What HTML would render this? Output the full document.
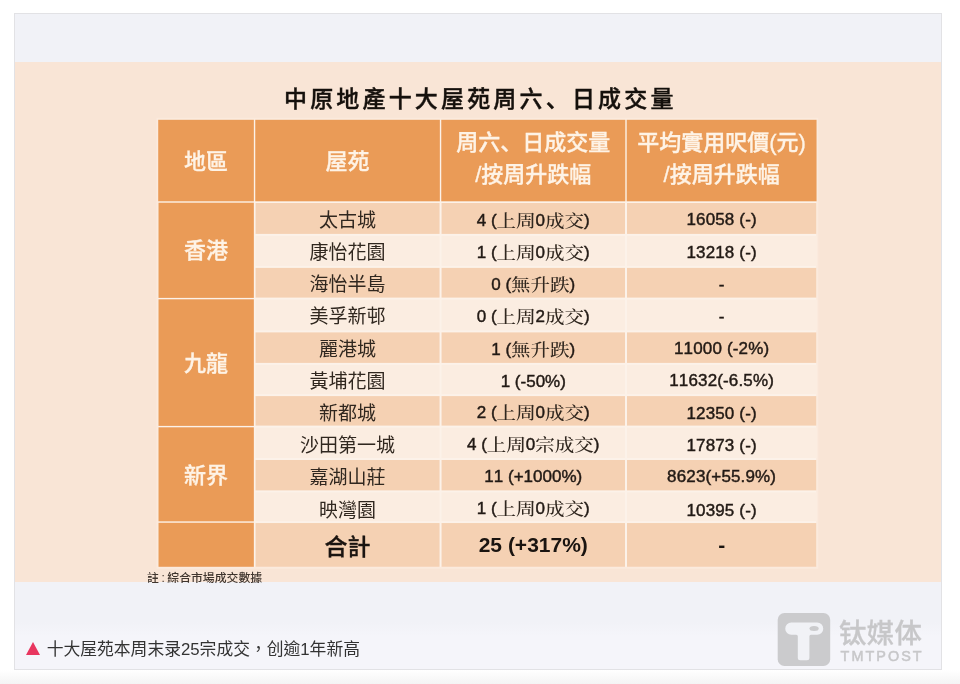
<!DOCTYPE html>
<html lang="zh-Hant">
<head>
<meta charset="utf-8">
<title>中原地產十大屋苑周六、日成交量</title>
<style>
html,body{margin:0;padding:0;}
body{width:960px;height:684px;overflow:hidden;background:#fff;position:relative;
  font-family:"Liberation Sans","Noto Sans CJK TC",sans-serif;}
.pagefade{position:absolute;left:0;top:670px;width:960px;height:14px;
  background:linear-gradient(#ffffff,#f4f4f4);}
.card{position:absolute;left:14px;top:13px;width:926px;height:655px;border:1px solid #e2e2e5;
  background:#f1f2f7;box-sizing:content-box;}
.slide{position:absolute;left:0;top:0;width:926px;height:655px;overflow:hidden;filter:blur(0.45px);}
.peach{position:absolute;left:0;top:48px;width:926px;height:520px;background:#f9e5d6;}
.capbg{position:absolute;left:0;top:608px;width:926px;height:47px;
  background:linear-gradient(#f1f2f7,#f5f5fa 30%);}
.dn{font-family:"Liberation Sans","Noto Sans CJK SC",sans-serif;}
.title{position:absolute;left:269px;top:67.7px;white-space:nowrap;font-size:23px;line-height:34px;letter-spacing:3.17px;font-weight:500;color:#15100c;-webkit-text-stroke:0.4px #15100c;}
.grid{position:absolute;left:0;top:0;}
.c{position:absolute;box-sizing:border-box;display:flex;align-items:center;justify-content:center;text-align:center;white-space:nowrap;}
.h{color:#fef3e6;font-size:22px;line-height:32px;font-weight:500;-webkit-text-stroke:0.3px #fef3e6;}
.t2{font-size:19px;color:#30271f;}
.t3{font-kerning:none;font-size:17px;color:#221a15;font-family:"Liberation Sans","Noto Serif CJK TC",serif;-webkit-text-stroke:0.45px #221a15;}
.t3 .k{font-size:19.5px;-webkit-text-stroke:0;display:inline-block;transform:scaleY(0.86);transform-origin:50% 97%;font-weight:500;color:#30271f;}
.t4{font-kerning:none;letter-spacing:0.15px;font-size:17px;color:#221a15;-webkit-text-stroke:0.45px #221a15;}
.t4 span{position:relative;top:1.5px;}
.t3>span{position:relative;top:-0.7px;}
.tt{font-size:21px;font-weight:700;color:#1a1410;}
.tt2{font-size:23px;font-weight:500;-webkit-text-stroke:0.35px #1a1410;}
.note{position:absolute;left:132px;top:556.9px;font-size:11.85px;line-height:14px;color:#3f352e;font-weight:500;white-space:nowrap;word-spacing:-0.7px;}
.cap{position:absolute;left:31.7px;top:624px;font-size:16.8px;line-height:24px;color:#333;
  font-family:"Liberation Sans","Noto Sans CJK SC",sans-serif;}
.tri{position:absolute;left:11.3px;top:628px;width:0;height:0;border-left:7px solid transparent;
  border-right:7px solid transparent;border-bottom:13px solid #e8365f;}
.logo{position:absolute;left:761px;top:598px;}
.lg1{position:absolute;left:824px;top:600.3px;font-size:27.4px;line-height:40px;font-weight:500;color:#c7c7c9;letter-spacing:0.3px;-webkit-text-stroke:0.3px #c7c7c9;
  font-family:"Liberation Sans","Noto Sans CJK SC",sans-serif;white-space:nowrap;}
.lg2{position:absolute;left:825.6px;top:632px;font-size:14.4px;line-height:20px;color:#c7c7c9;letter-spacing:2.05px;white-space:nowrap;-webkit-text-stroke:0.5px #c7c7c9;}
</style>
</head>
<body>
<div class="pagefade"></div>
<div class="card">
  <div class="capbg"></div>
  <div class="slide">
  <div class="peach"></div>
  <div class="title">中原地產十大屋苑周六<span class="dn" lang="zh-Hans">、</span>日成交量</div>
  <svg class="grid" width="945" height="670" viewBox="15 14 945 670">
<rect x="156.50" y="117.80" width="661.75" height="451.00" fill="#fbeadd"/>
<rect x="158.50" y="119.80" width="657.75" height="447.00" fill="#fcf2e9"/>
<rect x="158.20" y="119.80" width="95.65" height="81.50" fill="#ea9b57"/>
<rect x="255.25" y="119.80" width="184.60" height="81.50" fill="#ea9b57"/>
<rect x="441.25" y="119.80" width="184.05" height="81.50" fill="#ea9b57"/>
<rect x="626.70" y="119.80" width="189.85" height="81.50" fill="#ea9b57"/>
<rect x="158.50" y="202.70" width="95.35" height="95.20" fill="#ea9b57"/>
<rect x="158.50" y="299.30" width="95.35" height="126.60" fill="#ea9b57"/>
<rect x="158.50" y="427.30" width="95.35" height="94.05" fill="#ea9b57"/>
<rect x="158.50" y="522.75" width="95.35" height="44.05" fill="#ea9b57"/>
<rect x="255.55" y="203.00" width="184.00" height="30.90" fill="#f5d1b3"/>
<rect x="441.55" y="203.00" width="183.45" height="30.90" fill="#f5d1b3"/>
<rect x="627.00" y="203.00" width="189.25" height="30.90" fill="#f5d1b3"/>
<rect x="255.55" y="235.90" width="184.00" height="30.00" fill="#fbede1"/>
<rect x="441.55" y="235.90" width="183.45" height="30.00" fill="#fbede1"/>
<rect x="627.00" y="235.90" width="189.25" height="30.00" fill="#fbede1"/>
<rect x="255.55" y="267.90" width="184.00" height="29.70" fill="#f5d1b3"/>
<rect x="441.55" y="267.90" width="183.45" height="29.70" fill="#f5d1b3"/>
<rect x="627.00" y="267.90" width="189.25" height="29.70" fill="#f5d1b3"/>
<rect x="255.55" y="299.60" width="184.00" height="30.80" fill="#fbede1"/>
<rect x="441.55" y="299.60" width="183.45" height="30.80" fill="#fbede1"/>
<rect x="627.00" y="299.60" width="189.25" height="30.80" fill="#fbede1"/>
<rect x="255.55" y="332.40" width="184.00" height="30.50" fill="#f5d1b3"/>
<rect x="441.55" y="332.40" width="183.45" height="30.50" fill="#f5d1b3"/>
<rect x="627.00" y="332.40" width="189.25" height="30.50" fill="#f5d1b3"/>
<rect x="255.55" y="364.90" width="184.00" height="29.20" fill="#fbede1"/>
<rect x="441.55" y="364.90" width="183.45" height="29.20" fill="#fbede1"/>
<rect x="627.00" y="364.90" width="189.25" height="29.20" fill="#fbede1"/>
<rect x="255.55" y="396.10" width="184.00" height="29.50" fill="#f5d1b3"/>
<rect x="441.55" y="396.10" width="183.45" height="29.50" fill="#f5d1b3"/>
<rect x="627.00" y="396.10" width="189.25" height="29.50" fill="#f5d1b3"/>
<rect x="255.55" y="427.60" width="184.00" height="30.40" fill="#fbede1"/>
<rect x="441.55" y="427.60" width="183.45" height="30.40" fill="#fbede1"/>
<rect x="627.00" y="427.60" width="189.25" height="30.40" fill="#fbede1"/>
<rect x="255.55" y="460.00" width="184.00" height="30.40" fill="#f5d1b3"/>
<rect x="441.55" y="460.00" width="183.45" height="30.40" fill="#f5d1b3"/>
<rect x="627.00" y="460.00" width="189.25" height="30.40" fill="#f5d1b3"/>
<rect x="255.55" y="492.40" width="184.00" height="28.65" fill="#fbede1"/>
<rect x="441.55" y="492.40" width="183.45" height="28.65" fill="#fbede1"/>
<rect x="627.00" y="492.40" width="189.25" height="28.65" fill="#fbede1"/>
<rect x="255.55" y="523.05" width="184.00" height="43.75" fill="#f5d1b3"/>
<rect x="441.55" y="523.05" width="183.45" height="43.75" fill="#f5d1b3"/>
<rect x="627.00" y="523.05" width="189.25" height="43.75" fill="#f5d1b3"/>
</svg>
  <div class="c h" style="left:142.50px;top:106.00px;width:97.05px;height:83.20px"><span>地區</span></div>
  <div class="c h" style="left:239.55px;top:106.00px;width:186.00px;height:83.20px"><span>屋苑</span></div>
  <div class="c h" style="left:425.55px;top:103.80px;width:185.45px;height:83.20px"><span>周六<span class="dn" lang="zh-Hans">、</span>日成交量<br>/按周升跌幅</span></div>
  <div class="c h" style="left:611.00px;top:103.80px;width:191.25px;height:83.20px"><span>平均實用呎價(元)<br>/按周升跌幅</span></div>
  <div class="c h r" style="left:142.50px;top:189.20px;width:97.05px;height:96.60px"><span>香港</span></div>
  <div class="c h r" style="left:142.50px;top:285.80px;width:97.05px;height:128.00px"><span>九龍</span></div>
  <div class="c h r" style="left:142.50px;top:413.80px;width:97.05px;height:95.45px"><span>新界</span></div>
  <div class="c t2" style="left:239.55px;top:188.00px;width:186.00px;height:32.90px"><span>太古城</span></div>
  <div class="c t3" style="left:425.55px;top:188.00px;width:185.45px;height:32.90px"><span>4 (<span class="k">上周</span>0<span class="k">成交</span>)</span></div>
  <div class="c t4" style="left:611.00px;top:188.30px;width:191.25px;height:32.90px"><span>16058 (-)</span></div>
  <div class="c t2" style="left:239.55px;top:220.90px;width:186.00px;height:32.00px"><span>康怡花園</span></div>
  <div class="c t3" style="left:425.55px;top:220.90px;width:185.45px;height:32.00px"><span>1 (<span class="k">上周</span>0<span class="k">成交</span>)</span></div>
  <div class="c t4" style="left:611.00px;top:221.20px;width:191.25px;height:32.00px"><span>13218 (-)</span></div>
  <div class="c t2" style="left:239.55px;top:252.90px;width:186.00px;height:31.70px"><span>海怡半島</span></div>
  <div class="c t3" style="left:425.55px;top:252.90px;width:185.45px;height:31.70px"><span>0 (<span class="k">無升跌</span>)</span></div>
  <div class="c t4" style="left:611.00px;top:253.20px;width:191.25px;height:31.70px"><span>-</span></div>
  <div class="c t2" style="left:239.55px;top:284.60px;width:186.00px;height:32.80px"><span>美孚新邨</span></div>
  <div class="c t3" style="left:425.55px;top:284.60px;width:185.45px;height:32.80px"><span>0 (<span class="k">上周</span>2<span class="k">成交</span>)</span></div>
  <div class="c t4" style="left:611.00px;top:284.90px;width:191.25px;height:32.80px"><span>-</span></div>
  <div class="c t2" style="left:239.55px;top:317.40px;width:186.00px;height:32.50px"><span>麗港城</span></div>
  <div class="c t3" style="left:425.55px;top:317.40px;width:185.45px;height:32.50px"><span>1 (<span class="k">無升跌</span>)</span></div>
  <div class="c t4" style="left:611.00px;top:317.70px;width:191.25px;height:32.50px"><span>11000 (-2%)</span></div>
  <div class="c t2" style="left:239.55px;top:349.90px;width:186.00px;height:31.20px"><span>黃埔花園</span></div>
  <div class="c t3" style="left:425.55px;top:352.60px;width:185.45px;height:31.20px"><span>1 (-50%)</span></div>
  <div class="c t4" style="left:611.00px;top:350.20px;width:191.25px;height:31.20px"><span>11632(-6.5%)</span></div>
  <div class="c t2" style="left:239.55px;top:382.10px;width:186.00px;height:31.50px"><span>新都城</span></div>
  <div class="c t3" style="left:425.55px;top:380.60px;width:185.45px;height:31.50px"><span>2 (<span class="k">上周</span>0<span class="k">成交</span>)</span></div>
  <div class="c t4" style="left:611.00px;top:382.40px;width:191.25px;height:31.50px"><span>12350 (-)</span></div>
  <div class="c t2" style="left:239.55px;top:413.60px;width:186.00px;height:32.40px"><span>沙田第一城</span></div>
  <div class="c t3" style="left:425.55px;top:412.10px;width:185.45px;height:32.40px"><span>4 (<span class="k">上周</span>0<span class="k">宗成交</span>)</span></div>
  <div class="c t4" style="left:611.00px;top:413.90px;width:191.25px;height:32.40px"><span>17873 (-)</span></div>
  <div class="c t2" style="left:239.55px;top:445.00px;width:186.00px;height:32.40px"><span>嘉湖山莊</span></div>
  <div class="c t3" style="left:425.55px;top:447.20px;width:185.45px;height:32.40px"><span>11 (+1000%)</span></div>
  <div class="c t4" style="left:611.00px;top:445.30px;width:191.25px;height:32.40px"><span>8623(+55.9%)</span></div>
  <div class="c t2" style="left:239.55px;top:479.40px;width:186.00px;height:30.65px"><span>映灣園</span></div>
  <div class="c t3" style="left:425.55px;top:477.40px;width:185.45px;height:30.65px"><span>1 (<span class="k">上周</span>0<span class="k">成交</span>)</span></div>
  <div class="c t4" style="left:611.00px;top:479.70px;width:191.25px;height:30.65px"><span>10395 (-)</span></div>
  <div class="c tt tt2" style="left:239.55px;top:508.05px;width:186.00px;height:45.75px"><span>合計</span></div>
  <div class="c tt tt3" style="left:425.55px;top:508.05px;width:185.45px;height:45.75px"><span>25 (+317%)</span></div>
  <div class="c tt tt3" style="left:611.00px;top:508.05px;width:191.25px;height:45.75px"><span>-</span></div>
  <div class="note">註 : 綜合市場成交數據</div>
  <svg class="logo" width="56" height="56" viewBox="776 612 56 56">
    <rect x="777.7" y="613" width="52.5" height="53" rx="6.8" ry="6.8" fill="#cbcbcd"/>
    <path d="M791.3 622.6 H817.2 A6.05 6.05 0 0 1 817.2 634.7 H810.9 Q809.4 634.7 809.4 636.2 V657.7 Q809.4 660.2 806.9 660.2 H800.3 Q797.8 660.2 797.8 657.7 V636.2 Q797.8 634.7 796.3 634.7 H791.3 A6.05 6.05 0 0 1 791.3 622.6 Z" fill="#f1f2f6"/>
    <ellipse cx="814.1" cy="628.5" rx="4.6" ry="2.5" fill="#cbcbcd"/>
  </svg>
  <div class="lg1">钛媒体</div>
  <div class="lg2">TMTPOST</div>

  </div>
  <div class="tri"></div>
  <div class="cap">十大屋苑本周末录25宗成交，创逾1年新高</div>
</div>
</body>
</html>
